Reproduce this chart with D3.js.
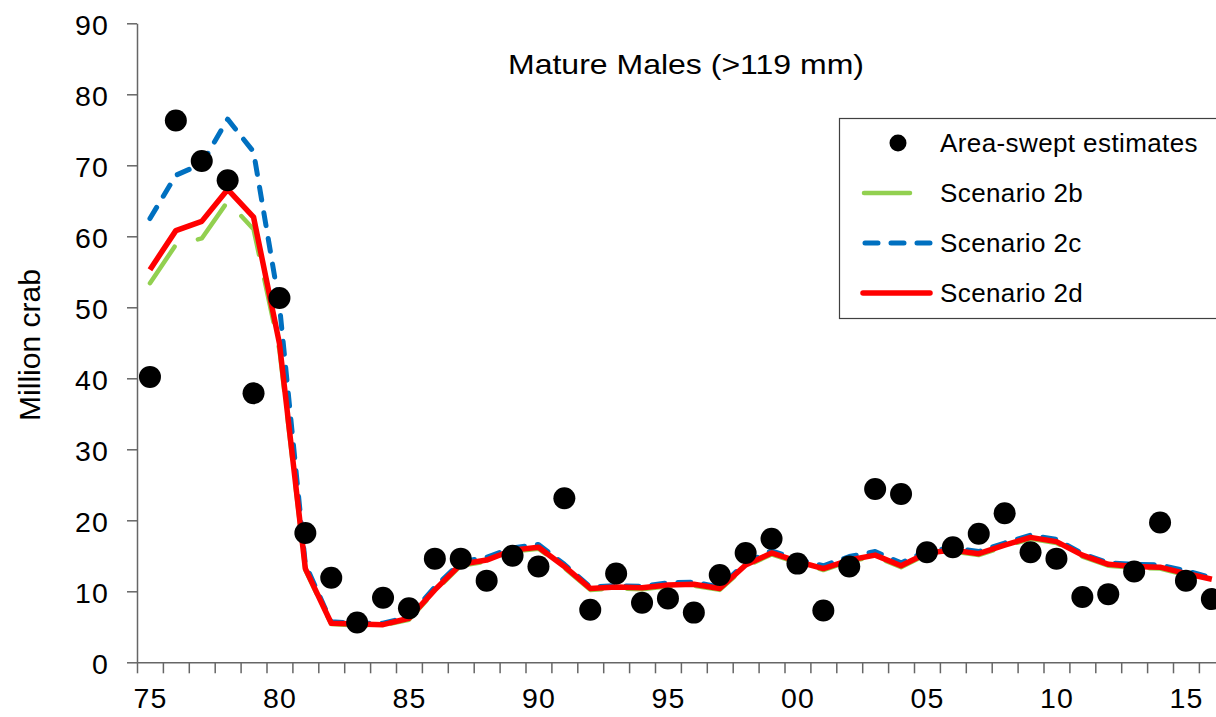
<!DOCTYPE html>
<html>
<head>
<meta charset="utf-8">
<script src="https://cdn.jsdelivr.net/npm/d3@7"></script>
<style>
  body { margin: 0; background: #fff; }
  text { font-family: "Liberation Sans", Arial, sans-serif; fill: #000; }
</style>
</head>
<body>
<div id="chart"></div>
<script>
// Survey years (1975 - 2016)
var years = [1975, 1976, 1977, 1978, 1979, 1980, 1981, 1982, 1983, 1984, 1985,
  1986, 1987, 1988, 1989, 1990, 1991, 1992, 1993, 1994, 1995,
  1996, 1997, 1998, 1999, 2000, 2001, 2002, 2003, 2004, 2005,
  2006, 2007, 2008, 2009, 2010, 2011, 2012, 2013, 2014, 2015, 2016];

// Area-swept estimates (million crab)
var areaSwept = [40.2, 76.3, 70.6, 67.9, 37.9, 51.3, 18.2, 11.9, 5.6, 9.1, 7.6,
  14.6, 14.6, 11.5, 15.0, 13.5, 23.1, 7.4, 12.5, 8.4, 9.0,
  7.0, 12.3, 15.4, 17.4, 13.9, 7.3, 13.5, 24.4, 23.7, 15.5,
  16.2, 18.1, 21.0, 15.5, 14.6, 9.2, 9.6, 12.8, 19.7, 11.5, 8.9];

// Model scenarios
var scenario2b = [53.4, 58.8, 59.7, 64.9, 61.0, 44.0, 13.0, 5.4, 5.2, 5.2, 6.0,
  10.0, 13.6, 14.2, 15.6, 16.0, 13.3, 10.2, 10.4, 10.3, 10.7,
  10.8, 10.2, 13.5, 15.2, 14.0, 13.0, 14.2, 14.9, 13.4, 15.2,
  15.6, 15.1, 16.3, 17.4, 16.8, 14.9, 13.6, 13.3, 13.2, 12.3, 11.5];

var scenario2c = [62.5, 68.6, 70.2, 76.5, 71.9, 50.3, 13.8, 5.7, 5.5, 5.5, 6.4,
  10.6, 14.1, 14.8, 16.1, 16.6, 13.8, 10.6, 10.8, 10.7, 11.2,
  11.3, 10.6, 14.0, 15.7, 14.5, 13.6, 14.9, 15.6, 14.0, 15.7,
  16.1, 15.6, 16.8, 17.9, 17.3, 15.3, 14.0, 13.8, 13.7, 12.9, 11.9];

var scenario2d = [55.3, 60.8, 62.1, 66.6, 62.7, 44.9, 13.2, 5.5, 5.4, 5.3, 6.2,
  10.2, 13.8, 14.4, 15.8, 16.2, 13.5, 10.4, 10.6, 10.5, 10.9,
  11.0, 10.4, 13.7, 15.4, 14.2, 13.2, 14.4, 15.1, 13.6, 15.4,
  15.8, 15.3, 16.5, 17.6, 17.0, 15.1, 13.8, 13.5, 13.4, 12.5, 11.7];

// Axis ticks
var yTicks = [0, 10, 20, 30, 40, 50, 60, 70, 80, 90];
var xLabelYears = [1975, 1980, 1985, 1990, 1995, 2000, 2005, 2010, 2015];

// Legend entries
var legendLabels = ["Area-swept estimates", "Scenario 2b", "Scenario 2c", "Scenario 2d"];

// SVG area
var svgWidth = 1216;
var svgHeight = 717;

var svg = d3.select("#chart")
  .append("svg")
  .attr("width", svgWidth)
  .attr("height", svgHeight);

svg.append("rect")
  .attr("width", svgWidth)
  .attr("height", svgHeight)
  .attr("fill", "#fff");

// plot area (the right edge runs past the picture)
var plotLeft = 137;
var yearStep = 25.9;
var plotTop = 23.3;
var plotBottom = 662.3;

var xScale = d3.scaleLinear()
  .domain([1974.5, 2016.5])
  .range([plotLeft, plotLeft + 42 * yearStep]);

var yScale = d3.scaleLinear()
  .domain([0, 90])
  .range([plotBottom, plotTop]);

var axisColor = "#666";

// y axis
var leftAxis = d3.axisLeft(yScale)
  .tickValues(yTicks)
  .tickSize(10)
  .tickSizeOuter(0)
  .tickPadding(18);

var yAxisG = svg.append("g")
  .attr("transform", `translate(${plotLeft}, 0)`)
  .call(leftAxis);
yAxisG.select(".domain").attr("stroke", axisColor).attr("stroke-width", 1.5);
yAxisG.selectAll("line").attr("stroke", axisColor).attr("stroke-width", 1.5);
yAxisG.selectAll("text")
  .attr("dy", "0.38em")
  .style("font-size", "28.5px")
  .style("letter-spacing", "1.2px")
  .attr("font-family", null);

// x axis: tick marks between years
var boundaries = years.map(d => d - 0.5).concat([2016.5]);
var bottomAxis = d3.axisBottom(xScale)
  .tickValues(boundaries)
  .tickFormat("")
  .tickSize(11)
  .tickSizeOuter(0);

var xAxisG = svg.append("g")
  .attr("transform", `translate(0, ${plotBottom})`)
  .call(bottomAxis);
xAxisG.select(".domain").attr("stroke", axisColor).attr("stroke-width", 1.5);
xAxisG.selectAll("line").attr("stroke", axisColor).attr("stroke-width", 1.5);

// x labels every five years, centred on the year
var labelAxis = d3.axisBottom(xScale)
  .tickValues(xLabelYears)
  .tickFormat(d => String(d % 100).padStart(2, "0"))
  .tickSize(0)
  .tickPadding(25);

var xLabelG = svg.append("g")
  .attr("transform", `translate(0, ${plotBottom})`)
  .call(labelAxis);
xLabelG.select(".domain").remove();
xLabelG.selectAll("text")
  .style("font-size", "28.5px")
  .style("letter-spacing", "1.2px")
  .attr("font-family", null);

// y axis title
svg.append("text")
  .attr("transform", "translate(40, 345) rotate(-90)")
  .attr("text-anchor", "middle")
  .attr("textLength", 152)
  .attr("lengthAdjust", "spacingAndGlyphs")
  .style("font-size", "30px")
  .text("Million crab");

// chart title
svg.append("text")
  .attr("x", 508)
  .attr("y", 74)
  .attr("textLength", 356)
  .attr("lengthAdjust", "spacingAndGlyphs")
  .style("font-size", "28px")
  .text("Mature Males (>119 mm)");

// lines
var drawLine = function(values) {
  return d3.line()
    .x((d, i) => xScale(years[i]))
    .y(d => yScale(d))(values);
};

svg.append("path")
  .attr("d", drawLine(scenario2b))
  .attr("fill", "none")
  .attr("stroke", "#92D050")
  .attr("stroke-width", 4.5)
  .attr("stroke-linecap", "round")
  .attr("stroke-linejoin", "round")
  .attr("stroke-dasharray", "44,25");

svg.append("path")
  .attr("d", drawLine(scenario2c))
  .attr("fill", "none")
  .attr("stroke", "#0070C0")
  .attr("stroke-width", 5)
  .attr("stroke-linecap", "round")
  .attr("stroke-linejoin", "round")
  .attr("stroke-dasharray", "13,13");

svg.append("path")
  .attr("d", drawLine(scenario2d))
  .attr("fill", "none")
  .attr("stroke", "#FF0000")
  .attr("stroke-width", 5.5)
  .attr("stroke-linejoin", "round");

// area-swept points
svg.selectAll(".dot")
  .data(areaSwept)
  .enter()
  .append("circle")
  .attr("class", "dot")
  .attr("cx", (d, i) => xScale(years[i]))
  .attr("cy", d => yScale(d))
  .attr("r", 11)
  .attr("fill", "#000");

// legend
var legend = svg.append("g");

legend.append("rect")
  .attr("x", 839.5)
  .attr("y", 118.5)
  .attr("width", 420)
  .attr("height", 200)
  .attr("fill", "#fff")
  .attr("stroke", "#404040")
  .attr("stroke-width", 1.2);

var rowY = [143, 193, 243, 293];

legend.append("circle")
  .attr("cx", 898)
  .attr("cy", rowY[0])
  .attr("r", 8.5)
  .attr("fill", "#000");

legend.append("line")
  .attr("x1", 864).attr("x2", 910)
  .attr("y1", rowY[1]).attr("y2", rowY[1])
  .attr("stroke", "#92D050")
  .attr("stroke-width", 4.5)
  .attr("stroke-linecap", "round");

legend.append("line")
  .attr("x1", 865).attr("x2", 930)
  .attr("y1", rowY[2]).attr("y2", rowY[2])
  .attr("stroke", "#0070C0")
  .attr("stroke-width", 5)
  .attr("stroke-linecap", "round")
  .attr("stroke-dasharray", "13,13");

legend.append("line")
  .attr("x1", 863).attr("x2", 930)
  .attr("y1", rowY[3]).attr("y2", rowY[3])
  .attr("stroke", "#FF0000")
  .attr("stroke-width", 5.5)
  .attr("stroke-linecap", "round");

legend.selectAll(".legend-label")
  .data(legendLabels)
  .enter()
  .append("text")
  .attr("class", "legend-label")
  .attr("x", 940)
  .attr("y", (d, i) => rowY[i] + 9)
  .style("font-size", "26px")
  .style("letter-spacing", "0.4px")
  .text(d => d);
</script>
</body>
</html>
